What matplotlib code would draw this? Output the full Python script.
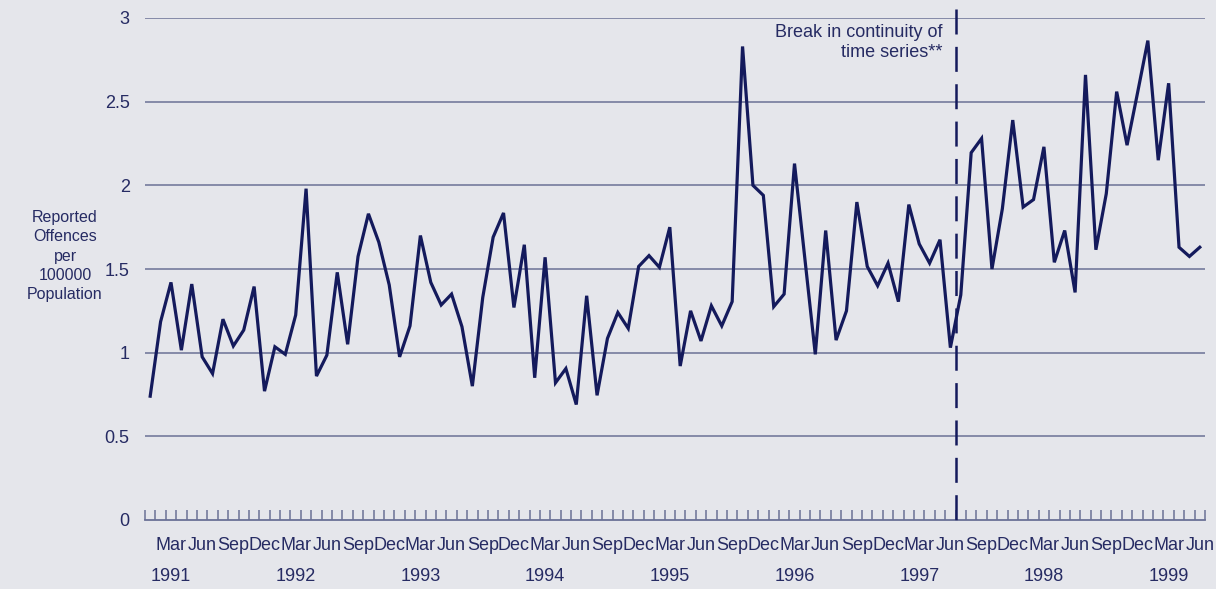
import matplotlib
matplotlib.use("Agg")
import matplotlib.pyplot as plt
import matplotlib.transforms as mtransforms

# ---- data ----
start_year = 1991
values = [
    0.74, 1.185, 1.42, 1.015, 1.41, 0.975, 0.875, 1.20, 1.04, 1.135, 1.395, 0.77,
    1.035, 0.99, 1.225, 1.98, 0.86, 0.985, 1.48, 1.05, 1.575, 1.83, 1.66, 1.405,
    0.975, 1.16, 1.70, 1.42, 1.285, 1.35, 1.155, 0.80, 1.33, 1.69, 1.835, 1.27,
    1.645, 0.85, 1.57, 0.82, 0.905, 0.69, 1.34, 0.745, 1.085, 1.24, 1.145, 1.515,
    1.58, 1.51, 1.75, 0.92, 1.25, 1.07, 1.28, 1.16, 1.305, 2.83, 2.00, 1.94,
    1.275, 1.35, 2.13, 1.56, 0.99, 1.73, 1.075, 1.25, 1.90, 1.515, 1.40, 1.535,
    1.305, 1.885, 1.65, 1.535, 1.675, 1.03, 1.345, 2.195, 2.28, 1.50, 1.86, 2.39,
    1.87, 1.915, 2.23, 1.54, 1.73, 1.36, 2.66, 1.615, 1.95, 2.56, 2.24, 2.55,
    2.865, 2.15, 2.61, 1.63, 1.575, 1.63,
]
month_names = ["Mar", "Jun", "Sep", "Dec"]
month_offsets = [2, 5, 8, 11]
years = [1991, 1992, 1993, 1994, 1995, 1996, 1997, 1998, 1999]
y_ticks = [0, 0.5, 1, 1.5, 2, 2.5, 3]
y_tick_labels = ["0", "0.5", "1", "1.5", "2", "2.5", "3"]
break_index = 77.5  # between Jun 1997 and Jul 1997
ylabel = "Reported\nOffences\nper\n100000\nPopulation"
break_text = "Break in continuity of\ntime series**"

# ---- style ----
BG = "#E5E6EB"
GRID = "#6B7196"
LINE = "#141A5C"
TEXT = "#262B63"
plt.rcParams["font.family"] = ["Liberation Sans", "DejaVu Sans"]
plt.rcParams["lines.scale_dashes"] = False

W, H = 1216, 589
fig = plt.figure(figsize=(W / 100, H / 100), dpi=100, facecolor=BG)
ax = fig.add_axes([145 / W, 1 - 520 / H, (1205 - 145) / W, (520 - 18) / H])
ax.set_facecolor(BG)

n = len(values)
xs = list(range(n))
ax.set_xlim(-0.5, n - 0.5)
ax.set_ylim(0, 3)

for yv in y_ticks[1:]:
    ax.axhline(yv, color=GRID, lw=1.1, zorder=1)

ax.plot(xs, values, color=LINE, lw=2.3, solid_joinstyle="miter", zorder=3)

# break line (drawn top to bottom so the dash pattern starts at the top)
ax.plot([break_index, break_index], [3.055, 0], color=LINE, lw=1.8,
        linestyle=(0, (18, 8.9)), clip_on=False, zorder=4)

# spines
for s in ["top", "right", "left"]:
    ax.spines[s].set_visible(False)
ax.spines["bottom"].set_color(GRID)
ax.spines["bottom"].set_linewidth(1.3)

# y ticks
ax.set_yticks(y_ticks)
ax.set_yticklabels(y_tick_labels)
ax.tick_params(axis="y", length=0, pad=11, labelsize=13, labelcolor=TEXT)

# x ticks: month boundaries, drawn inward
ax.set_xticks([i - 0.5 for i in range(n + 1)])
ax.set_xticklabels([])
ax.tick_params(axis="x", direction="in", length=7.2, width=1.1, color=GRID)

trans = mtransforms.blended_transform_factory(ax.transData, ax.transAxes)
for yr in years:
    for name, off in zip(month_names, month_offsets):
        idx = 12 * (yr - start_year) + off
        if idx < n:
            ax.text(idx, -0.05, name, transform=trans, ha="center", va="center",
                    fontsize=13, color=TEXT)
    ax.text(12 * (yr - start_year) + 2, -0.113, str(yr), transform=trans,
            ha="center", va="center", fontsize=13, color=TEXT)

fig.text(65 / W, 1 - 256 / H, ylabel, ha="center", va="center",
         multialignment="center", fontsize=11.5, color=TEXT, linespacing=1.35)

fig.text(943 / W, 1 - 24 / H, break_text, ha="right", va="top",
         multialignment="right", fontsize=13, color=TEXT, linespacing=1.25)

fig.savefig("out.png", dpi=100, facecolor=BG)
